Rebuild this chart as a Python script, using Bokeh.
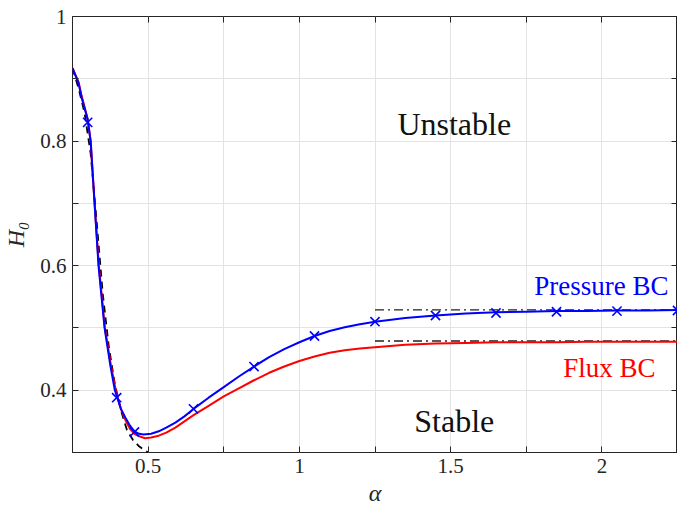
from bokeh.plotting import figure
from bokeh.models import FixedTicker, LinearAxis, Range1d, Label
from bokeh.embed import file_html
from bokeh.resources import INLINE

# Pressure BC curve
blue_x = [0.25, 0.27, 0.28, 0.30, 0.31, 0.323, 0.336, 0.356, 0.375, 0.39, 0.41, 0.425, 0.44, 0.455,
          0.47, 0.485, 0.51, 0.535, 0.56, 0.59, 0.62, 0.65, 0.7, 0.75, 0.8, 0.85, 0.9, 0.95, 1.0,
          1.05, 1.1, 1.15, 1.2, 1.25, 1.35, 1.45, 1.55, 1.65, 1.75, 1.85, 1.95, 2.05, 2.15, 2.25]
blue_y = [0.917, 0.893, 0.870, 0.835, 0.80, 0.70, 0.60, 0.50, 0.44, 0.40, 0.37, 0.356, 0.343, 0.334,
          0.330, 0.329, 0.330, 0.334, 0.340, 0.348, 0.358, 0.370, 0.388, 0.405, 0.422, 0.438, 0.453,
          0.466, 0.477, 0.487, 0.495, 0.501, 0.506, 0.510, 0.516, 0.520, 0.523, 0.525, 0.526, 0.527,
          0.527, 0.528, 0.528, 0.529]

# Pressure BC markers
mk_x = [0.30, 0.396, 0.455, 0.65, 0.85, 1.05, 1.25, 1.45, 1.65, 1.85, 2.05, 2.25]
mk_y = [0.830, 0.388, 0.333, 0.370, 0.438, 0.487, 0.510, 0.520, 0.524, 0.526, 0.527, 0.528]

# Flux BC curve
red_x = [0.25, 0.27, 0.28, 0.30, 0.31, 0.323, 0.337, 0.357, 0.377, 0.393, 0.41, 0.425, 0.44, 0.455,
         0.47, 0.49, 0.51, 0.535, 0.56, 0.59, 0.62, 0.65, 0.7, 0.75, 0.8, 0.85, 0.9, 0.95, 1.0,
         1.05, 1.1, 1.15, 1.2, 1.25, 1.35, 1.45, 1.55, 1.65, 1.75, 1.85, 1.95, 2.05, 2.15, 2.25]
red_y = [0.917, 0.895, 0.873, 0.836, 0.80, 0.70, 0.60, 0.50, 0.44, 0.40, 0.37, 0.352, 0.338, 0.330,
         0.326, 0.323, 0.324, 0.327, 0.332, 0.340, 0.350, 0.360, 0.375, 0.390, 0.403, 0.416, 0.428,
         0.438, 0.447, 0.454, 0.460, 0.464, 0.467, 0.469, 0.473, 0.475, 0.476, 0.477, 0.477, 0.477,
         0.478, 0.478, 0.478, 0.478]

# Small-alpha asymptote (black dashed)
asym_x = [0.25, 0.27, 0.29, 0.31, 0.33, 0.35, 0.37, 0.39, 0.41, 0.43, 0.45, 0.47, 0.49, 0.50]
asym_y = [0.917, 0.885, 0.845, 0.78, 0.67, 0.555, 0.47, 0.41, 0.368, 0.336, 0.320, 0.310, 0.303, 0.300]

# Large-alpha limits (black dash-dot)
lim_x = [1.25, 2.25]
lim_pressure = [0.529, 0.529]
lim_flux = [0.479, 0.479]

x_major = [0.5, 1, 1.5, 2]
x_minor = [0.25, 0.75, 1.25, 1.75, 2.25]
y_major = [0.4, 0.6, 0.8, 1]
y_minor = [0.3, 0.5, 0.7, 0.9]

FONT = "Liberation Serif"
AX = "#262626"

p = figure(width=677, height=508, x_range=Range1d(0.25, 2.25), y_range=Range1d(0.3, 1.0),
           output_backend="svg", toolbar_location=None,
           min_border_left=66, min_border_right=0, min_border_top=16, min_border_bottom=50)
p.background_fill_color = "white"
p.border_fill_color = "white"
p.outline_line_color = AX
p.outline_line_width = 1
p.outline_line_alpha = 1

xt = FixedTicker(ticks=x_major, minor_ticks=x_minor)
yt = FixedTicker(ticks=y_major, minor_ticks=y_minor)

for ax in p.xaxis:
    ax.ticker = xt
    ax.major_label_overrides = {1: "1", 2: "2"}
for ax in p.yaxis:
    ax.ticker = yt
    ax.major_label_overrides = {1: "1"}

for ax in p.xaxis + p.yaxis:
    ax.axis_line_color = None
    ax.major_tick_in = 6
    ax.major_tick_out = 0
    ax.minor_tick_in = 6
    ax.minor_tick_out = 0
    ax.major_tick_line_color = AX
    ax.minor_tick_line_color = AX
    ax.major_label_text_font = FONT
    ax.major_label_text_font_size = "21px"
    ax.major_label_text_color = AX
    ax.axis_label_text_font = FONT
    ax.axis_label_text_font_size = "24px"
    ax.axis_label_text_font_style = "italic"
    ax.axis_label_text_color = AX

p.xaxis.axis_label = "α"
p.xaxis.major_label_standoff = 6
p.xaxis.axis_label_standoff = 4
p.yaxis.axis_label = "H₀"
p.yaxis.major_label_standoff = 6
p.yaxis.axis_label_standoff = 8

# top and right axes (ticks only)
top = LinearAxis(ticker=xt, axis_line_color=None, major_tick_in=6, major_tick_out=0,
                 minor_tick_in=6, minor_tick_out=0, major_tick_line_color=AX,
                 minor_tick_line_color=AX, major_label_text_font_size="0px",
                 major_label_standoff=0, major_label_text_color=None)
right = LinearAxis(ticker=yt, axis_line_color=None, major_tick_in=6, major_tick_out=0,
                   minor_tick_in=6, minor_tick_out=0, major_tick_line_color=AX,
                   minor_tick_line_color=AX, major_label_text_font_size="0px",
                   major_label_standoff=0, major_label_text_color=None)
p.add_layout(top, "above")
p.add_layout(right, "right")

for g in (p.xgrid, p.ygrid):
    g.grid_line_color = "#e3e3e3"
    g.grid_line_width = 1
    g.minor_grid_line_color = "#e3e3e3"
    g.minor_grid_line_width = 1
p.xgrid.ticker = xt
p.ygrid.ticker = yt

p.line(lim_x, lim_pressure, line_color="#222222", line_width=1.3, line_dash="9 4 2 4")
p.line(lim_x, lim_flux, line_color="#222222", line_width=1.3, line_dash="9 4 2 4")
p.line(asym_x, asym_y, line_color="black", line_width=1.8, line_dash="7 5")
p.line(red_x, red_y, line_color="#ff0000", line_width=2)
p.line(blue_x, blue_y, line_color="#0000ff", line_width=2)
p.scatter(mk_x, mk_y, marker="x", size=13, line_color="#0000ff", line_width=1.6)

for txt, x, y, col, fs in [("Unstable", 1.512, 0.827, "#111111", "32px"),
                           ("Stable", 1.512, 0.350, "#111111", "32px"),
                           ("Pressure BC", 1.998, 0.568, "#0000ff", "27px"),
                           ("Flux BC", 2.025, 0.436, "#ff0000", "27px")]:
    p.add_layout(Label(x=x, y=y, text=txt, text_align="center", text_baseline="middle",
                       text_font=FONT, text_font_size=fs, text_color=col))

open("out.html", "w").write(file_html(p, INLINE))
